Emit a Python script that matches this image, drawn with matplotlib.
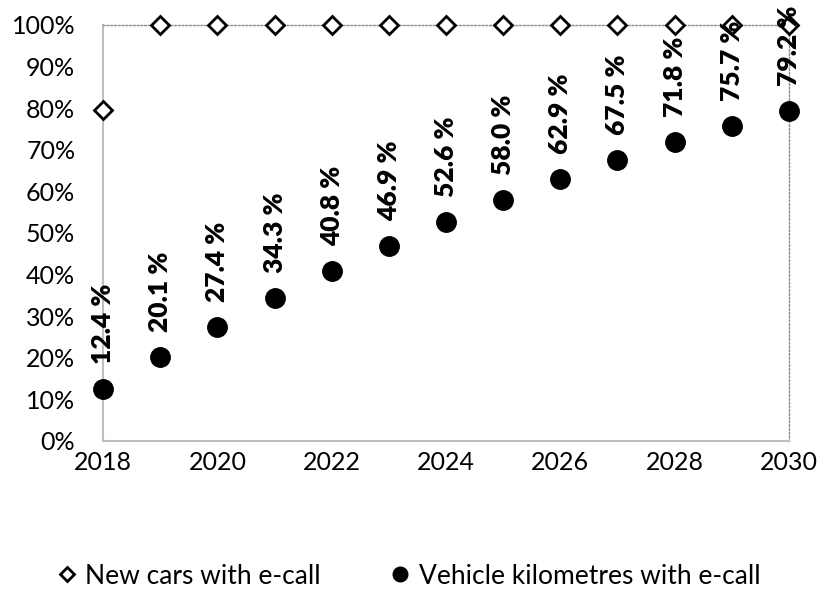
import matplotlib.pyplot as plt
from matplotlib.ticker import PercentFormatter

years = [2018, 2019, 2020, 2021, 2022, 2023, 2024, 2025, 2026, 2027, 2028, 2029, 2030]
new_cars = [79.5, 100, 100, 100, 100, 100, 100, 100, 100, 100, 100, 100, 100]
vehicle_km = [12.4, 20.1, 27.4, 34.3, 40.8, 46.9, 52.6, 58.0, 62.9, 67.5, 71.8, 75.7, 79.2]

plt.rcParams["font.family"] = ["Lato", "DejaVu Sans"]

fig = plt.figure(figsize=(8.18, 5.94), dpi=100)
ax = fig.add_axes([0.126, 0.2576, 0.8385, 0.7004])

ax.plot(years, new_cars, linestyle="none", marker="D", markersize=9,
        markerfacecolor="white", markeredgecolor="black", markeredgewidth=2,
        label="New cars with e-call", zorder=4, clip_on=False)
ax.plot(years, vehicle_km, linestyle="none", marker="o", markersize=14,
        color="black", label="Vehicle kilometres with e-call", zorder=3, clip_on=False)

# etiquetas verticais acima de cada ponto
for x, v in zip(years, vehicle_km):
    ax.annotate(f"{v:.1f} %", (x, v), xytext=(0, 18), textcoords="offset points",
                rotation=90, ha="center", va="bottom", fontsize=19,
                fontweight="heavy", zorder=5)

ax.set_xlim(2018, 2030)
ax.set_ylim(0, 100)
ax.set_xticks(range(2018, 2031, 2))
ax.set_yticks(range(0, 101, 10))
ax.yaxis.set_major_formatter(PercentFormatter(decimals=0))
ax.tick_params(length=0, labelsize=18)
ax.tick_params(axis="y", pad=20)
ax.tick_params(axis="x", pad=7)

for side in ["left", "bottom"]:
    ax.spines[side].set_color("#bfbfbf")
    ax.spines[side].set_linewidth(1.5)
for side in ["top", "right"]:
    ax.spines[side].set_color("#8c8c8c")
    ax.spines[side].set_linestyle((0, (1.2, 1.5)))
    ax.spines[side].set_linewidth(1)

fig.legend(loc="center", bbox_to_anchor=(0.499, 0.03), ncol=2, frameon=False,
           fontsize=19, handletextpad=0.3, columnspacing=2.6, markerscale=0.75,
           handlelength=0.8)

fig.savefig("out.png", dpi=100)
